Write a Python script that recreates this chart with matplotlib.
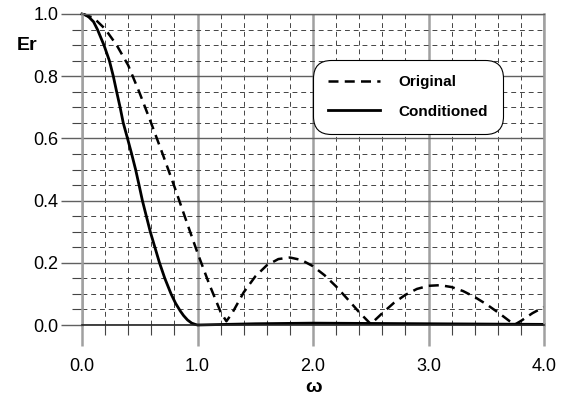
import matplotlib
matplotlib.use("Agg")
import matplotlib.pyplot as plt
from matplotlib.ticker import MultipleLocator

plt.rcParams['font.family'] = ['Liberation Sans', 'DejaVu Sans']

# Data
omega_orig = [0.0, 0.1, 0.2, 0.3, 0.4, 0.5, 0.6, 0.7, 0.8, 0.9, 1.0, 1.1, 1.2, 1.25,
              1.3, 1.4, 1.5, 1.6, 1.7, 1.8, 1.9, 2.0, 2.1, 2.2, 2.3, 2.4, 2.5,
              2.6, 2.7, 2.8, 2.9, 3.0, 3.1, 3.2, 3.3, 3.4, 3.5, 3.6, 3.7, 3.75,
              3.8, 3.9, 4.0]
er_orig = [1.0, 0.988, 0.952, 0.900, 0.835, 0.745, 0.648, 0.548, 0.445, 0.338, 0.232,
           0.133, 0.042, 0.012, 0.038, 0.105, 0.156, 0.192, 0.212, 0.217, 0.209,
           0.189, 0.160, 0.124, 0.083, 0.041, 0.003, 0.038, 0.071, 0.097, 0.116,
           0.126, 0.128, 0.122, 0.109, 0.090, 0.067, 0.041, 0.013, 0.002, 0.013,
           0.038, 0.058]

omega_cond = [0.0, 0.03, 0.06, 0.1, 0.134, 0.19, 0.237, 0.271, 0.30, 0.33, 0.357,
              0.394, 0.43, 0.464, 0.494, 0.523, 0.557, 0.591, 0.631, 0.671, 0.717,
              0.771, 0.81, 0.851, 0.88, 0.914, 0.95, 0.98, 1.0, 1.5, 2.0, 2.5,
              3.0, 3.5, 4.0]
er_cond = [1.0, 0.997, 0.99, 0.975, 0.95, 0.90, 0.85, 0.80, 0.75, 0.70, 0.65,
           0.60, 0.55, 0.50, 0.45, 0.40, 0.35, 0.30, 0.25, 0.20, 0.15,
           0.10, 0.07, 0.045, 0.03, 0.016, 0.006, 0.002, 0.0, 0.004, 0.006, 0.005,
           0.004, 0.003, 0.002]

series_labels = ["Original", "Conditioned"]
x_ticks = [0.0, 1.0, 2.0, 3.0, 4.0]
y_ticks = [0.0, 0.2, 0.4, 0.6, 0.8, 1.0]

W, H = 564, 409
fig = plt.figure(figsize=(W / 100, H / 100), dpi=100)
ax = fig.add_axes([82 / W, 1 - 325 / H, (544 - 82) / W, (325 - 14) / H])

ax.set_xlim(0, 4)
ax.set_ylim(0, 1)
ax.xaxis.set_minor_locator(MultipleLocator(0.2))
ax.yaxis.set_minor_locator(MultipleLocator(0.05))
ax.set_xticks(x_ticks)
ax.set_xticklabels([f"{v:.1f}" for v in x_ticks])
ax.set_yticks(y_ticks)
ax.set_yticklabels([f"{v:.1f}" for v in y_ticks])

# grids
ax.grid(which='major', axis='x', color='#a0a0a0', linewidth=1.8, linestyle='-')
ax.grid(which='major', axis='y', color='#606060', linewidth=1.0, linestyle='-')
ax.grid(which='minor', axis='both', color='#444444', linewidth=0.7, linestyle=(0, (5, 4)))
ax.set_axisbelow(True)

for s in ['left', 'right']:
    ax.spines[s].set_color('#a0a0a0')
    ax.spines[s].set_linewidth(1.8)
ax.spines['top'].set_color('#606060')
ax.spines['top'].set_linewidth(1.0)
ax.spines['bottom'].set_color('#222222')
ax.spines['bottom'].set_linewidth(1.2)

ax.tick_params(axis='x', which='major', direction='out', length=15, width=1.8,
               color='#a0a0a0', pad=9, labelsize=13)
ax.tick_params(axis='x', which='minor', direction='out', length=7, width=0.8,
               color='#444444')
ax.tick_params(axis='y', which='major', direction='out', length=15, width=1.0,
               color='#606060', pad=2, labelsize=13)
ax.tick_params(axis='y', which='minor', direction='out', length=7, width=0.8,
               color='#444444')

l1, = ax.plot(omega_orig, er_orig, color='black', linewidth=1.8,
              linestyle=(0, (4, 2.5)), label=series_labels[0], clip_on=False)
l2, = ax.plot(omega_cond, er_cond, color='black', linewidth=2.0,
              linestyle='-', label=series_labels[1], clip_on=False)

leg = ax.legend(handles=[l1, l2], loc='upper left',
                bbox_to_anchor=((313 - 82) / 462, (325 - 60) / 311),
                prop={'weight': 'bold', 'size': 11}, handlelength=3.4,
                handletextpad=1.2, labelspacing=1.0, borderpad=1.0,
                borderaxespad=0, fancybox=True, framealpha=1, edgecolor='black')
leg.get_frame().set_linewidth(0.8)
leg.get_frame().set_boxstyle('round', pad=0.0, rounding_size=1.2)

fig.text(27 / W, 1 - 46 / H, "Er", fontsize=14, fontweight='bold',
         ha='center', va='center')
fig.text(314 / W, 1 - 387 / H, "ω", fontsize=14, fontweight='bold',
         ha='center', va='center')

fig.savefig("out.png", dpi=100)
